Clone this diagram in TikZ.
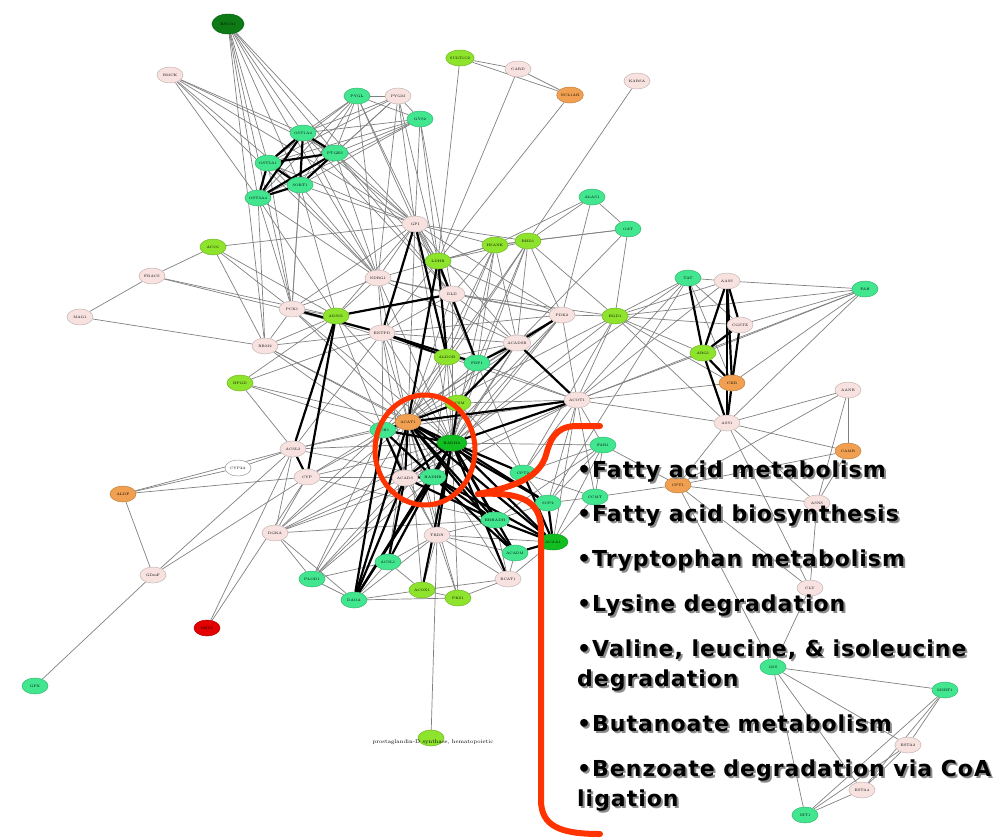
\documentclass[tikz,border=0pt]{standalone}
\usepackage{fontspec}
\usepackage{xcolor}
\usepackage{tikz}
\usetikzlibrary{positioning, arrows.meta, shapes.geometric, fit, calc}
\newfontfamily\listfont{DejaVu Sans}[LetterSpace=4.5]

\definecolor{pinkfill}{RGB}{247,226,224}
\definecolor{mintfill}{RGB}{66,230,142}
\definecolor{limefill}{RGB}{142,228,44}
\definecolor{dkgreenfill}{RGB}{14,122,22}
\definecolor{greenfill}{RGB}{18,190,34}
\definecolor{orangefill}{RGB}{240,160,80}
\definecolor{redfill}{RGB}{226,0,0}
\definecolor{markred}{RGB}{255,51,0}

\pgfdeclarelayer{background}
\pgfsetlayers{background,main}

\tikzset{
  gene/.style={ellipse, draw, minimum width=26, minimum height=16, inner sep=0pt, line width=0.5pt, font=\fontsize{3.5}{4}\selectfont},
  genepink/.style={gene, fill=pinkfill, draw=pinkfill!80!black},
  genemint/.style={gene, fill=mintfill, draw=mintfill!80!black},
  genelime/.style={gene, fill=limefill, draw=limefill!80!black},
  genedkgreen/.style={gene, fill=dkgreenfill, draw=dkgreenfill!80!black, minimum width=32, minimum height=20},
  genegreen/.style={gene, fill=greenfill, draw=greenfill!80!black, minimum width=30},
  geneorange/.style={gene, fill=orangefill, draw=orangefill!80!black},
  genered/.style={gene, fill=redfill, draw=redfill!80!black},
  genewhite/.style={gene, fill=white, draw=black!40},
  edge/.style={draw=black!50, line width=0.7pt},
  strong/.style={draw=black, line width=2.2pt},
  listitem/.style={anchor=base west, inner sep=0pt, font=\listfont\bfseries\fontsize{22}{30}\selectfont},
}

\begin{document}
\begin{tikzpicture}[x=1pt, y=-1pt]
\useasboundingbox (0,0) rectangle (1002,839);

% genes, by colour
\foreach \nm/\x/\y/\lab in {bmck/170/75/BMCK, pygm/398/96/PYGM, card/518/69/CARD, kars/637/81/KARSA,
  fbac/152/276/FBACS, mag/80/317/MAG1, pck/292/309/PCK1, rrm/265/346/RRM2, gpi/415/224/GPI,
  ndrg/378/278/NDRG1, dld/452/294/DLD, pdk/562/315/PDK2, entp/382/333/ENTPD, acsb/517/343/ACADSB,
  acot/577/400/ACOT1, acads/405/478/ACADS, trdn/437/535/TRDN, bcat/508/579/BCAT1, ass/727/423/ASS1,
  asns/817/503/ASNS, clu/810/588/CLU, esta/908/745/ESTA2, estb/862/790/ESTA4, aafd/848/390/AANB,
  aass/727/281/AASS, cgst/740/325/CGSTZ, acsl/293/449/ACSL3, cyp/307/477/CYP, dgka/275/533/DGKA,
  gdmf/153/575/GDmF}
  \node[genepink] (\nm) at (\x,\y) {\lab};
\foreach \nm/\x/\y/\lab in {pygl/357/96/PYGL, gys/420/119/GYS2, osta/303/133/OST1A4, ptg/335/153/PTGES,
  ostb/268/163/OST5A1, sort/300/185/SORT1, ostc/258/198/OST3A4, alas/592/197/ALAS1, oat/628/229/OAT,
  fbp/477/363/FBP1, mt1/383/430/ECH1, hadh/433/477/HADHB, mt2/523/473/CPT2, mt3/548/503/SCP2,
  mt4/495/520/EHHADH, mt5/515/553/ACADM, mt6/388/562/ACSL1, daoa/354/600/DAOA, far/603/445/FAR1,
  ccmt/595/497/CCMT, gss/773/667/GSS, msrt/945/690/MSRT1, mt7/805/815/NIT1, tat/688/278/TAT,
  fah/865/289/FAH, plod/312/579/PLOD1, gpx/35/686/GPX}
  \node[genemint] (\nm) at (\x,\y) {\lab};
\foreach \nm/\x/\y/\lab in {sult/460/58/SULT1C2, aco/213/247/ACO1, adss/336/316/ADSS1, hpgd/240/383/HPGD,
  hsan/495/245/HSANK, bhd/528/241/BHD1, ldhb/438/261/LDHB, hgd/615/316/HGD1, aldo/447/357/ALDOB,
  lm2/458/403/ACSM, acox/422/590/ACOX1, pks/458/598/PKS1, arg/703/353/ARG1}
  \node[genelime] (\nm) at (\x,\y) {\lab};
\foreach \nm/\x/\y/\lab in {ncl/570/95/NCL1AH, acat/408/422/ACAT1, cpt/678/485/CPT1, camr/848/451/CAMR,
  ckb/732/383/CKB, aldf/123/494/ALDF}
  \node[geneorange] (\nm) at (\x,\y) {\lab};
\node[genedkgreen] (dg1) at (228,24) {ESCO1};
\node[genegreen] (hadha) at (452,443) {HADHA};
\node[genegreen] (gr2) at (553,542) {ACAA1};
\node[genered] (red) at (207,628) {RED1};
\node[genewhite] (cypw) at (238,468) {CYP2A};
\node[genelime] (ptgds) at (431,738) {};
\node[font=\fontsize{5.5}{6}\selectfont, inner sep=0pt] (ptgdslab) at (433,742) {prostaglandin-D synthase, hematopoietic};

% interactions
\begin{pgfonlayer}{background}
\foreach \a/\b in {dg1/ostb, dg1/ostc, dg1/sort, dg1/osta, dg1/ptg, dg1/ndrg, dg1/pck, dg1/gpi, dg1/rrm,
  bmck/osta, bmck/ptg, bmck/ostc, bmck/sort, bmck/gpi, bmck/ndrg,
  pygl/pygm, pygl/osta, pygl/ptg, pygl/ostb, pygl/sort, pygl/ostc, pygl/gpi, pygl/ndrg, pygl/dld, pygl/gys,
  pygm/gys, pygm/osta, pygm/ptg, pygm/ostb, pygm/sort, pygm/gpi, pygm/ndrg, pygm/ldhb,
  gys/osta, gys/ptg, gys/ostb, gys/sort, gys/ostc, gys/gpi, gys/ldhb, gys/dld,
  osta/gpi, osta/ndrg, osta/dld, osta/pck, ptg/gpi, ptg/ndrg, ptg/ldhb, ptg/dld, sort/gpi, sort/ndrg,
  sort/pck, sort/adss, ostc/ndrg, ostc/pck, ostc/rrm, ostc/adss, ostb/pck, ostb/ndrg, ostb/gpi,
  sult/card, sult/ncl, sult/ldhb, card/ncl, card/ldhb, ncl/ldhb, kars/bhd,
  alas/bhd, alas/oat, alas/pdk, alas/hsan, oat/acsb, oat/hsan, oat/hgd, oat/bhd,
  gpi/ldhb, gpi/dld, gpi/ndrg, gpi/hsan, gpi/bhd, gpi/pck, gpi/adss, gpi/fbp, gpi/acsb, gpi/pdk,
  ldhb/hsan, ldhb/bhd, ldhb/dld, ldhb/entp, ldhb/pdk, hsan/bhd, hsan/dld, hsan/ndrg, hsan/fbp, hsan/acsb,
  hsan/aldo, bhd/pdk, bhd/fbp, bhd/acsb, bhd/aldo, bhd/hgd, ndrg/dld, ndrg/pck, ndrg/adss, ndrg/entp,
  ndrg/acsb, ndrg/pdk, dld/pdk, dld/acsb, dld/entp, dld/hgd, dld/fbp, entp/acsb, entp/pdk,
  aldo/fbp, aldo/acsb, fbp/acsb, pdk/acot, pdk/hgd, pdk/fbp,
  hgd/tat, hgd/aass, hgd/cgst, hgd/arg, hgd/ckb, hgd/fah, hgd/ass, hgd/acot,
  tat/aass, tat/cgst, tat/ckb, tat/acot, aass/fah, aass/acot, fah/cgst, fah/arg, fah/ass,
  fah/ckb, fah/acot, cgst/ass, ass/aafd, ass/camr, ass/cpt, ass/acot, ass/asns, ass/clu,
  aafd/camr, aafd/asns, aafd/cpt, camr/asns, camr/cpt, cpt/asns, cpt/far, cpt/ccmt, cpt/gss, cpt/clu,
  asns/clu, clu/gss, gss/msrt, gss/esta, gss/estb, gss/mt7, msrt/esta, msrt/estb, msrt/mt7,
  esta/estb, esta/mt7, estb/mt7,
  acot/far, acot/ccmt, acot/mt2, acot/lm2, acot/fbp, acot/aldo, acot/mt3, arg/acot, ckb/acot,
  far/mt2, far/mt3, far/hadha, far/ccmt, ccmt/mt3, ccmt/mt2, ccmt/gr2, far/mt4,
  aco/fbac, aco/pck, aco/rrm, aco/adss, aco/gpi, fbac/mag, fbac/adss, fbac/entp, mag/rrm, pck/rrm,
  pck/adss, rrm/adss, rrm/entp, pck/aldo,
  hpgd/acsl, hpgd/adss, hpgd/entp, hpgd/mt1, hpgd/acat,
  acsl/cypw, acsl/aldf, acsl/gdmf, acsl/red, acsl/dgka, acsl/mt1, acsl/acat, acsl/hadha, acsl/hadh, acsl/entp,
  cypw/aldf, cyp/aldf, aldf/gdmf, gdmf/cyp, gdmf/gpx, red/cyp, cyp/mt1, cyp/acat, cyp/hadha,
  cyp/hadh, cyp/mt4, cyp/dgka, dgka/plod, dgka/hadha, dgka/acat, dgka/mt1, dgka/hadh, dgka/acads, dgka/mt4,
  plod/acat, plod/hadha, plod/hadh, plod/acads, plod/mt1, ptgds/trdn,
  mt1/lm2, lm2/mt2, lm2/fbp, lm2/aldo, acat/aldo, acat/fbp, acat/entp, hadha/fbp, hadha/aldo,
  hadha/entp, mt1/entp, mt1/aldo, acads/entp, hadh/aldo, trdn/acat, trdn/mt1, trdn/hadh,
  trdn/acads, trdn/mt4, trdn/mt5, trdn/bcat, trdn/mt6, trdn/acox, trdn/pks, trdn/daoa, trdn/gr2,
  bcat/acat, bcat/mt4, bcat/mt5, bcat/gr2, bcat/pks, bcat/acox, acox/mt6, acox/pks, acox/daoa,
  pks/daoa, pks/hadha, pks/acat, acox/acat, mt6/daoa, mt6/hadh, mt6/acat, mt5/acat, mt5/mt4,
  mt3/mt4, mt2/acat, mt2/mt3, gr2/far, gr2/acot, mt2/fbp, plod/mt6, plod/daoa, dgka/daoa,
  mt1/acot, acads/acot, hadh/acot, hadh/pdk, acads/pdk, mt1/pdk, acat/pdk, hadha/pdk, acsb/hadha,
  acsb/hadh, acsb/mt1, dld/hadha, dld/acat, adss/hadha, adss/mt1, rrm/mt1, rrm/acat,
  rrm/hadha, pck/acat, pck/hadha, ndrg/acat, ndrg/hadha, gpi/hadha, gpi/acat, hsan/acat, hsan/hadha,
  bhd/acat, bhd/hadha, hgd/hadha, hgd/acat, hgd/mt2, tat/hadha, tat/mt3}
  \draw[edge] (\a) -- (\b);
\foreach \a/\b in {osta/ostb, osta/sort, osta/ostc, ptg/ostb, ptg/sort, ptg/ostc, ostb/sort,
  ostb/ostc, sort/ostc, osta/ptg,
  gpi/entp, gpi/aldo, ldhb/aldo, ldhb/fbp, ldhb/acat, entp/aldo, entp/fbp, pck/entp, adss/dld,
  fbp/acsb, acsb/pdk, acsb/acot, acsb/lm2, adss/acsl, adss/cyp, acsl/cyp,
  aass/cgst, aass/arg, aass/ckb, aass/ass, cgst/arg, cgst/ckb, arg/ckb, arg/ass, ckb/ass, tat/arg,
  acat/hadha, acat/acads, acat/hadh, acat/mt1, mt1/acads, mt1/hadh, hadha/acads, hadha/hadh,
  acads/hadh, hadha/mt2, hadha/mt3, hadha/mt4, hadha/gr2, hadha/mt5, acat/mt4, acat/gr2, acat/mt3,
  acat/mt5, hadh/mt4, hadh/gr2, hadh/mt5, acads/mt4, mt4/gr2, mt3/gr2, mt5/gr2, mt2/gr2,
  daoa/acat, daoa/hadha, daoa/mt1, daoa/acads, daoa/hadh, mt6/hadha, mt6/acads, acox/hadha,
  lm2/hadha, lm2/acat, acot/hadha, acot/acat, bcat/hadha, trdn/hadha, mt1/hadha}
  \draw[strong] (\a) -- (\b);
\end{pgfonlayer}

% highlighted module and its bracket
\draw[markred, line width=5pt] (425,450) ellipse [x radius=50, y radius=55];
\coordinate (tip) at (478,494);
\draw[markred, line width=6pt, line cap=round]
  (600,426) -- (575,426) .. controls (555,427) and (550,440) .. (546,455)
  .. controls (540,475) and (520,486) .. (tip);
\draw[markred, line width=6pt, line cap=round]
  (tip) .. controls (520,492) and (541,500) .. (541,530) -- (541,800)
  .. controls (541,826) and (560,834) .. (600,834);

% pathway list
\foreach \yy/\txt in {477/{\textbullet Fatty acid metabolism}, 521/{\textbullet Fatty acid biosynthesis},
  566/{\textbullet Tryptophan metabolism}, 611/{\textbullet Lysine degradation},
  656/{\textbullet Valine, leucine, \& isoleucine}, 686/{degradation}, 731/{\textbullet Butanoate metabolism},
  776/{\textbullet Benzoate degradation via CoA}, 806/{ligation}} {
  \node[listitem, text=black!45] at (579,\yy+2) {\txt};
  \node[listitem, text=black] at (577,\yy) {\txt};
}
\end{tikzpicture}
\end{document}
